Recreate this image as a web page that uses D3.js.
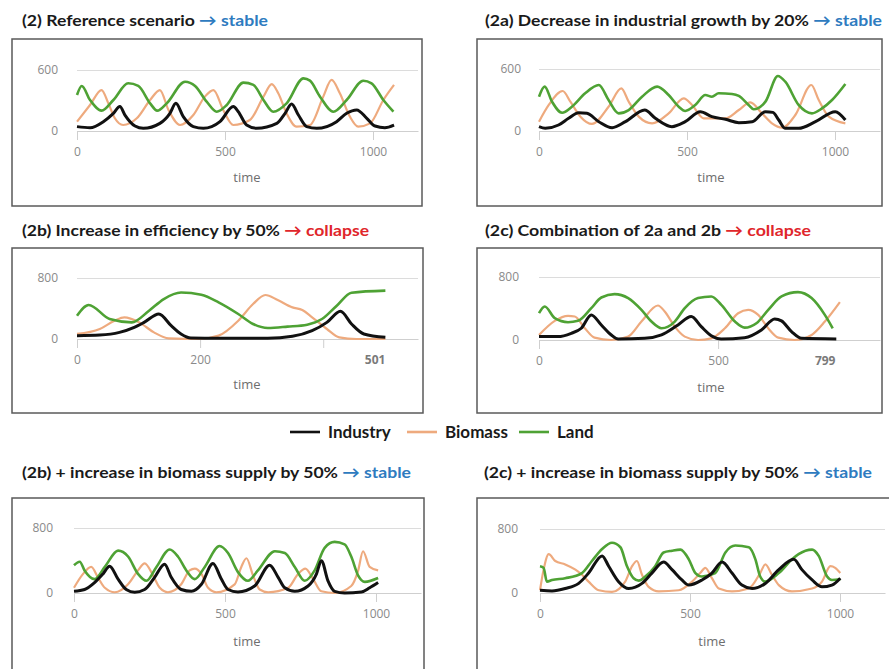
<!DOCTYPE html>
<html>
<head>
<meta charset="utf-8">
<script src="https://cdn.jsdelivr.net/npm/d3@7"></script>
<style>
  body { margin: 0; background: #fff; }
  svg { display: block; }
</style>
</head>
<body>
<div class="chart"></div>
<script>
// series order: Industry, Biomass, Land
const seriesNames = ["Industry", "Biomass", "Land"];
const seriesColors = ["#111111", "#eeaa7e", "#4ea234"];

// (2) reference scenario  -- [time, value]
const p1Industry = [[0,43],[44,33],[89,92],[123,174],[145,240],[162,157],[196,49],[224,26],[280,75],[314,174],[334,272],[359,141],[393,43],[427,26],[483,92],[528,240],[545,190],[573,59],[607,26],[675,75],[703,174],[725,266],[748,157],[776,43],[810,26],[877,92],[911,174],[945,207],[979,125],[1007,49],[1040,33],[1071,59]];
const p1Biomass = [[0,92],[44,256],[83,403],[106,272],[128,125],[156,59],[202,125],[247,305],[280,403],[309,207],[348,59],[393,157],[432,338],[461,403],[494,207],[528,59],[584,108],[630,338],[658,462],[680,371],[708,174],[742,43],[787,59],[832,338],[860,502],[888,371],[922,141],[950,43],[990,75],[1035,305],[1071,453]];
const p1Land = [[0,354],[16,443],[44,305],[83,200],[123,305],[173,469],[207,443],[247,272],[271,200],[303,272],[365,485],[399,443],[438,289],[472,190],[506,256],[562,476],[596,453],[630,305],[663,190],[708,272],[765,518],[787,495],[821,338],[866,190],[911,305],[967,495],[995,469],[1035,305],[1069,190]];

// (2a) decrease in industrial growth
const p2Industry = [[0,42],[21,26],[66,58],[100,123],[134,177],[162,171],[202,90],[247,32],[292,90],[357,203],[393,123],[449,42],[494,90],[545,187],[584,139],[630,113],[675,81],[720,90],[765,187],[790,180],[810,106],[832,26],[877,26],[934,90],[1001,187],[1035,106]];
const p2Biomass = [[0,90],[33,252],[80,387],[106,284],[140,139],[179,68],[235,235],[278,413],[303,284],[337,139],[382,74],[438,171],[489,316],[517,252],[556,123],[630,123],[675,203],[714,277],[753,171],[787,74],[821,32],[866,155],[920,445],[945,300],[979,139],[1035,74]];
const p2Land = [[0,332],[19,429],[44,284],[78,177],[111,235],[156,365],[202,445],[235,300],[269,171],[303,203],[348,332],[399,429],[438,348],[472,235],[494,194],[528,252],[562,348],[584,332],[607,365],[652,358],[675,339],[708,252],[725,210],[765,284],[807,532],[832,477],[877,252],[922,171],[956,219],[990,300],[1035,455]];

// (2b) increase in efficiency
const p3Industry = [[0,44],[37,52],[69,87],[93,153],[109,218],[133,328],[153,175],[169,66],[185,13],[230,9],[310,9],[350,35],[382,109],[406,218],[428,363],[446,197],[466,66],[501,22]];
const p3Biomass = [[0,66],[37,131],[61,240],[77,284],[101,218],[125,87],[149,9],[198,0],[230,44],[262,240],[286,459],[306,577],[326,511],[350,415],[366,380],[382,284],[406,131],[426,22],[454,0],[501,0]];
const p3Land = [[0,306],[19,446],[53,262],[89,218],[117,371],[141,524],[169,610],[202,580],[230,481],[262,328],[286,197],[310,144],[342,162],[374,188],[398,262],[422,437],[446,607],[501,634]];

// (2c) combination of 2a and 2b
const p4Industry = [[0,43],[53,43],[90,85],[118,149],[146,319],[174,191],[202,64],[221,13],[295,21],[342,64],[388,191],[425,298],[453,170],[481,55],[509,13],[574,30],[621,128],[658,268],[677,243],[705,106],[733,21],[830,13]];
const p4Biomass = [[0,64],[44,243],[81,306],[100,298],[128,149],[155,30],[202,0],[249,43],[286,234],[332,438],[351,362],[379,170],[407,43],[444,0],[481,21],[519,149],[556,340],[584,383],[612,319],[640,149],[668,30],[714,0],[761,64],[798,234],[840,481]];
const p4Land = [[0,340],[16,425],[44,277],[81,226],[109,243],[146,404],[174,540],[211,583],[249,532],[286,383],[314,234],[342,149],[379,234],[407,404],[444,532],[481,553],[509,447],[547,234],[574,157],[607,213],[640,383],[677,553],[723,608],[761,532],[798,319],[820,149]];

// (2b) + increase in biomass supply
const p5Industry = [[0,21],[35,43],[68,128],[96,235],[118,330],[146,171],[173,43],[201,9],[234,43],[267,193],[300,355],[322,193],[355,43],[389,21],[422,107],[460,364],[488,171],[510,43],[543,13],[598,86],[648,342],[676,193],[698,64],[731,21],[775,86],[803,235],[819,398],[841,150],[863,21],[896,0],[952,13],[979,64],[1007,128]];
const p5Biomass = [[0,64],[30,235],[57,321],[79,193],[102,64],[135,9],[179,107],[212,278],[234,364],[262,214],[284,64],[311,9],[355,107],[383,278],[400,300],[422,235],[444,64],[471,9],[532,107],[554,321],[571,428],[593,214],[615,43],[643,9],[709,64],[742,235],[766,300],[792,171],[819,21],[863,0],[918,86],[941,278],[957,514],[979,321],[1007,278]];
const p5Land = [[0,342],[19,385],[35,278],[68,171],[102,321],[146,522],[179,449],[212,235],[240,150],[273,321],[317,535],[344,449],[372,278],[400,171],[433,321],[482,578],[510,492],[543,257],[576,150],[609,278],[665,514],[698,492],[731,321],[764,150],[797,278],[830,556],[863,629],[896,599],[918,449],[941,214],[963,137],[1007,184]];

// (2c) + increase in biomass supply
const p6Industry = [[0,34],[40,26],[84,56],[129,120],[162,249],[207,464],[229,335],[262,142],[296,56],[340,120],[373,249],[412,387],[440,292],[473,163],[496,99],[540,163],[573,249],[607,387],[640,249],[673,99],[707,56],[751,120],[796,292],[846,421],[873,292],[907,163],[940,77],[973,99],[1001,185]];
const p6Biomass = [[0,34],[12,292],[29,486],[51,400],[84,357],[118,292],[140,228],[162,142],[196,34],[240,13],[284,142],[307,335],[323,400],[340,228],[362,77],[396,21],[462,34],[507,142],[534,249],[551,314],[573,185],[596,56],[640,21],[696,56],[734,249],[751,357],[773,228],[796,99],[840,21],[907,56],[940,142],[968,335],[984,314],[1001,249]];
const p6Land = [[0,335],[12,314],[23,142],[40,163],[84,185],[140,249],[173,400],[207,550],[240,628],[268,572],[290,335],[312,185],[329,155],[351,206],[384,335],[412,507],[440,529],[468,542],[496,421],[518,249],[540,206],[584,249],[618,507],[651,593],[696,572],[718,421],[734,206],[751,142],[796,249],[840,421],[862,486],[907,542],[929,464],[957,206],[973,163],[1001,172]];

// axis ticks and labels
const p1Ticks = [0, 500, 1000], p1TickLabels = ["0", "500", "1000"];
const p2Ticks = [0, 500, 1000], p2TickLabels = ["0", "500", "1000"];
const p3Ticks = [0, 200, 400], p3TickLabels = ["0", "200", ""];
const p4Ticks = [0, 500], p4TickLabels = ["0", "500"];
const p5Ticks = [0, 500, 1000], p5TickLabels = ["0", "500", "1000"];
const p6Ticks = [0, 500, 1000], p6TickLabels = ["0", "500", "1000"];

const blue = "#2e7bbf", red = "#e0262b";

const panels = [
  { title: "(2) Reference scenario ", status: "\u2192 stable", statusColor: blue, tx: 22, ty: 26, anchor: "start", tw: 246,
    box: [12, 39, 410, 167], x0: 77, x1: 418, xMax: 1152, y0: 131, y1: 70, yMax: 600, yLab: 58, timeX: 247, timeY: 182,
    data: [p1Industry, p1Biomass, p1Land], ticks: p1Ticks, tickLabels: p1TickLabels },
  { title: "(2a) Decrease in industrial growth by 20% ", status: "\u2192 stable", statusColor: blue, tx: 485, ty: 26, anchor: "start", tw: 397,
    box: [477, 39, 405, 167], x0: 539, x1: 880, xMax: 1152, y0: 131, y1: 69, yMax: 600, yLab: 521, timeX: 711, timeY: 182,
    data: [p2Industry, p2Biomass, p2Land], ticks: p2Ticks, tickLabels: p2TickLabels },
  { title: "(2b) Increase in efficiency by 50% ", status: "\u2192 collapse", statusColor: red, tx: 22, ty: 236, anchor: "start", tw: 347,
    box: [12, 248, 411, 165], x0: 77, x1: 418, xMax: 554, y0: 339, y1: 278, yMax: 800, yLab: 58, timeX: 247, timeY: 389,
    data: [p3Industry, p3Biomass, p3Land], ticks: p3Ticks, tickLabels: p3TickLabels, endLabel: { v: 501, text: "501", anchor: "end" } },
  { title: "(2c) Combination of 2a and 2b ", status: "\u2192 collapse", statusColor: red, tx: 485, ty: 236, anchor: "start", tw: 326,
    box: [477, 248, 405, 165], x0: 539, x1: 880, xMax: 952, y0: 340, y1: 277, yMax: 800, yLab: 519, timeX: 711, timeY: 392,
    data: [p4Industry, p4Biomass, p4Land], ticks: p4Ticks, tickLabels: p4TickLabels, endLabel: { v: 799, text: "799", anchor: "middle" } },
  { title: "(2b) + increase in biomass supply by 50% ", status: "\u2192 stable", statusColor: blue, tx: 22, ty: 478, anchor: "start", tw: 389,
    box: [12, 498, 412, 200], x0: 74, x1: 421, xMax: 1149, y0: 593, y1: 528, yMax: 800, yLab: 53, timeX: 247, timeY: 646,
    data: [p5Industry, p5Biomass, p5Land], ticks: p5Ticks, tickLabels: p5TickLabels },
  { title: "(2c) + increase in biomass supply by 50% ", status: "\u2192 stable", statusColor: blue, tx: 484, ty: 478, anchor: "start", tw: 388,
    box: [477, 498, 420, 200], x0: 540, x1: 885, xMax: 1150, y0: 593, y1: 529, yMax: 800, yLab: 518, timeX: 712, timeY: 646,
    data: [p6Industry, p6Biomass, p6Land], ticks: p6Ticks, tickLabels: p6TickLabels }
];

const svg = d3.select(".chart").append("svg")
  .attr("width", 889)
  .attr("height", 669)
  .style("font-family", "Lato, 'Open Sans', sans-serif");

panels.forEach(p => {
  const g = svg.append("g");

  // title, stretched to the width it has in the figure
  const t = g.append("text")
    .attr("x", p.tx).attr("y", p.ty)
    .attr("text-anchor", p.anchor)
    .attr("font-size", 15.5).attr("font-weight", "bold")
    .attr("fill", "#1a1a1a")
    .attr("textLength", p.tw)
    .attr("lengthAdjust", "spacingAndGlyphs");
  t.append("tspan").text(p.title);
  t.append("tspan").attr("fill", p.statusColor).text(p.status);

  // frame
  g.append("rect")
    .attr("x", p.box[0]).attr("y", p.box[1])
    .attr("width", p.box[2]).attr("height", p.box[3])
    .attr("fill", "#fff").attr("stroke", "#5a5a5a").attr("stroke-width", 1.5);

  const x = d3.scaleLinear().domain([0, p.xMax]).range([p.x0, p.x1]);
  const y = d3.scaleLinear().domain([0, p.yMax]).range([p.y0, p.y1]);

  // y axis: labels + gridline
  const yAxis = g.append("g")
    .attr("transform", `translate(${p.x0},0)`)
    .call(d3.axisLeft(y).tickValues([0, p.yMax]).tickSizeInner(-(p.x1 - p.x0)).tickSizeOuter(0).tickPadding(p.x0 - p.yLab));
  yAxis.select(".domain").remove();
  yAxis.selectAll(".tick line").attr("stroke", "#dcdcdc");
  yAxis.selectAll(".tick text").attr("fill", "#8a8a8a").attr("font-size", 12).attr("font-family", "'Open Sans', sans-serif");

  // x axis
  const xAxis = g.append("g")
    .attr("transform", `translate(0,${p.y0})`)
    .call(d3.axisBottom(x).tickValues(p.ticks).tickSizeInner(9).tickSizeOuter(0).tickPadding(7)
      .tickFormat((d, i) => p.tickLabels[i]));
  xAxis.select(".domain").attr("stroke", "#cfcfcf");
  xAxis.selectAll(".tick line").attr("stroke", "#cfcfcf");
  xAxis.selectAll(".tick text").attr("fill", "#8a8a8a").attr("font-size", 12).attr("font-family", "'Open Sans', sans-serif");

  if (p.endLabel) {
    g.append("text")
      .attr("x", x(p.endLabel.v)).attr("y", p.y0 + 16 + 12 * 0.71)
      .attr("text-anchor", p.endLabel.anchor)
      .attr("fill", "#7a7a7a").attr("font-size", 12).attr("font-weight", "bold")
      .attr("font-family", "'Open Sans', sans-serif")
      .text(p.endLabel.text);
  }

  g.append("text")
    .attr("x", p.timeX).attr("y", p.timeY)
    .attr("text-anchor", "middle")
    .attr("fill", "#6e6e6e").attr("font-size", 13)
    .attr("font-family", "'Open Sans', sans-serif")
    .text("time");

  const line = d3.line()
    .x(d => x(d[0]))
    .y(d => y(d[1]))
    .curve(d3.curveMonotoneX);

  // draw biomass, land, then industry on top
  [1, 2, 0].forEach(k => {
    g.append("path")
      .datum(p.data[k])
      .attr("d", line)
      .attr("fill", "none")
      .attr("stroke", seriesColors[k])
      .attr("stroke-width", k === 1 ? 2.2 : (k === 0 ? 3 : 2.6))
      .attr("stroke-linejoin", "round");
  });
});

// legend
const legend = svg.append("g").attr("transform", "translate(290,432)");
const legendX = [0, 117, 229];
seriesNames.forEach((name, i) => {
  const lg = legend.append("g").attr("transform", `translate(${legendX[i]},0)`);
  lg.append("line")
    .attr("x1", 0).attr("x2", 30).attr("y1", 0).attr("y2", 0)
    .attr("stroke", seriesColors[i]).attr("stroke-width", 2.6);
  lg.append("text")
    .attr("x", 38).attr("y", 6)
    .attr("font-size", 17).attr("font-weight", "bold")
    .attr("fill", "#1a1a1a")
    .text(name);
});
</script>
</body>
</html>
